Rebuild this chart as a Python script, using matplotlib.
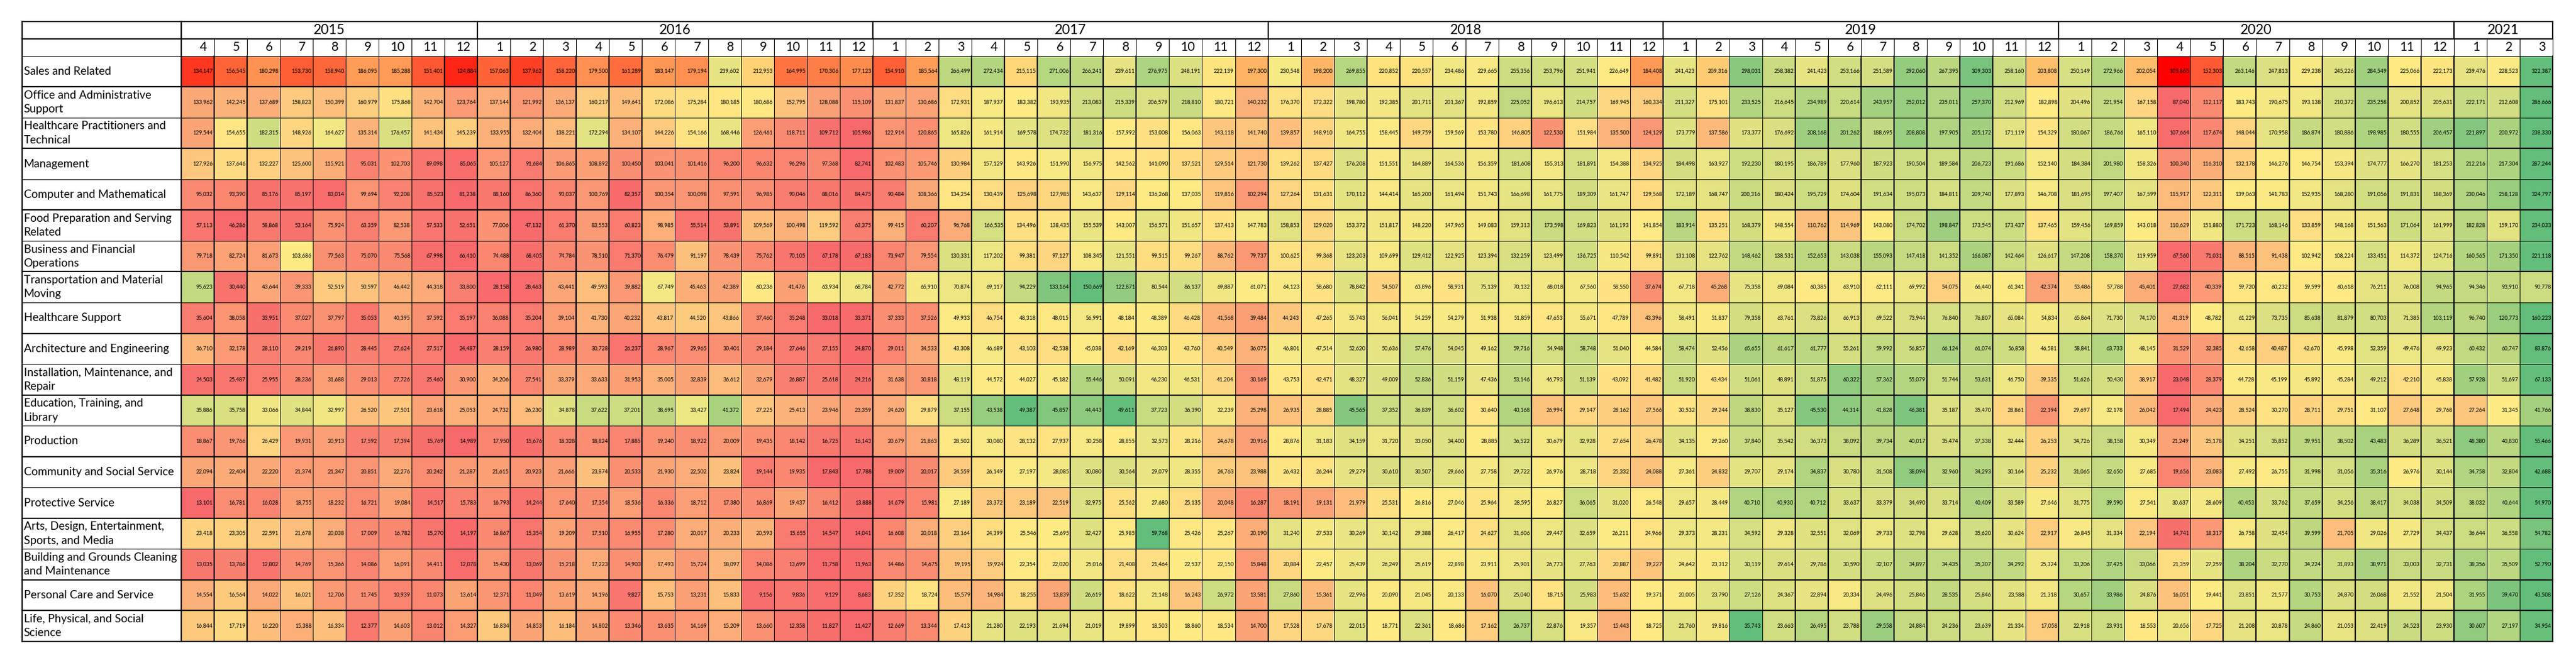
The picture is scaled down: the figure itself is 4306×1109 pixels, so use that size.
import numpy as np
import matplotlib
matplotlib.use("Agg")
import matplotlib.pyplot as plt
from matplotlib.colors import LinearSegmentedColormap, TwoSlopeNorm

plt.rcParams['font.family'] = ['Lato', 'DejaVu Sans']

# ---------- data ----------
years = [2015, 2016, 2017, 2018, 2019, 2020, 2021]
months = {2015: list(range(4, 13)), 2016: list(range(1, 13)), 2017: list(range(1, 13)),
          2018: list(range(1, 13)), 2019: list(range(1, 13)), 2020: list(range(1, 13)),
          2021: [1, 2, 3]}

categories = ["Sales and Related", "Office and Administrative\nSupport",
              "Healthcare Practitioners and\nTechnical", "Management", "Computer and Mathematical",
              "Food Preparation and Serving\nRelated", "Business and Financial\nOperations",
              "Transportation and Material\nMoving", "Healthcare Support", "Architecture and Engineering",
              "Installation, Maintenance, and\nRepair", "Education, Training, and\nLibrary", "Production",
              "Community and Social Service", "Protective Service",
              "Arts, Design, Entertainment,\nSports, and Media",
              "Building and Grounds Cleaning\nand Maintenance", "Personal Care and Service",
              "Life, Physical, and Social\nScience"]

sales = [134147,156545,180298,153730,158940,186095,185288,151401,124884,
 157063,137962,158220,179500,161289,183147,179194,239602,212953,164995,170306,177123,
 154910,185564,266499,272434,215115,271006,266241,239611,276975,248191,222139,197300,
 230548,198200,269855,220852,220557,234486,229665,255356,253796,251941,226649,184408,
 241423,209316,298031,258382,241423,253166,251589,292060,267395,309303,258160,203808,
 250149,272966,202054,105865,152303,263146,247813,229238,245226,284549,225066,222173,
 239476,228523,322387]
office = [133962,142245,137689,158823,150399,160979,175868,142704,123764,
 137144,121992,136137,160217,149641,172086,175284,180185,180686,152795,128088,115109,
 131837,130686,172931,187937,183382,193935,213083,215339,206579,218810,180721,140232,
 176370,172322,198780,192385,201711,201367,192859,225052,196613,214757,169945,160334,
 211327,175101,233525,216645,234989,220614,243957,252012,235011,257370,212969,182898,
 204496,221954,167158,87040,112117,183743,190675,193138,210372,235258,200852,205631,
 222171,212608,286666]
health_prac = [129544,154655,182315,148926,164627,135314,176457,141434,145239,
 133955,132404,138221,172294,134107,144226,154166,168446,126461,118711,109712,105986,
 122914,120865,165826,161914,169578,174732,181316,157992,153008,156063,143118,141740,
 139857,148910,164755,158445,149759,159569,153780,146805,122530,151984,135500,124129,
 173779,137586,173377,176692,208168,201262,188695,208808,197905,205172,171119,154329,
 180067,186766,165110,107664,117674,148044,170958,186874,180886,198985,180555,206457,
 221897,200972,238330]
management = [127926,137646,132227,125600,115921,95031,102703,89098,85065,
 105127,91684,106865,108892,100450,103041,101416,96200,96632,96296,97368,82741,
 102483,105746,130984,157129,143926,151990,156975,142562,141090,137521,129514,121730,
 139262,137427,176208,151551,164889,164536,156359,181608,155313,181891,154388,134925,
 184498,163927,192230,180195,186789,177960,187923,190504,189584,206723,191686,152140,
 184384,201980,158326,100340,116310,132178,146276,146754,153394,174777,166270,181253,
 212216,217304,287244]
computer = [95032,93390,85176,85197,83014,99694,92208,85523,81238,
 88160,86360,93037,100769,82357,100354,100098,97591,96985,90046,88016,84475,
 90484,108366,134254,130439,125698,127985,143637,129114,136268,137035,119816,102294,
 127264,131631,170112,144414,165200,161494,151743,166698,161775,189309,161747,129568,
 172189,168747,200316,180424,195729,174604,191634,195073,184811,209740,177893,146708,
 181695,197407,167599,115917,122311,139063,141783,152935,168280,191056,191831,188369,
 230046,258128,324797]
food = [57113,46286,58868,53164,75924,63359,82538,57533,52651,
 77006,47132,61370,83553,60823,98985,55514,53891,109569,100498,119592,63375,
 99415,60207,96768,166535,134496,138435,155539,143007,156571,151657,137413,147783,
 158853,129020,153372,151817,148220,147965,149083,159313,173598,169823,161193,141854,
 183914,135251,168379,148554,110762,114969,143080,174702,198847,173545,173437,137465,
 159456,169859,143018,110629,151880,171723,168146,133859,148168,151563,171064,161999,
 182828,159170,234033]
business = [79718,82724,81673,103686,77563,75070,75568,67998,66410,
 74488,68405,74784,78510,71370,76479,91197,78439,75762,70105,67178,67183,
 73947,79554,130331,117202,99381,97127,108345,121551,99515,99267,88762,79737,
 100625,99368,123203,109699,129412,122925,123394,132259,123499,136725,110542,99891,
 131108,122762,148462,138531,152653,143038,155093,147418,141352,166087,142464,126617,
 147208,158370,119959,67560,71031,88515,91438,102942,108224,133451,114372,124716,
 160565,171350,221118]
transport = [95623,30440,43644,39333,52519,50597,46442,44318,33800,
 28158,28463,43441,49593,39882,67749,45463,42389,60236,41476,63934,68784,
 42772,65910,70874,69117,94229,133164,150669,122871,80544,86137,69887,61071,
 64123,58680,78842,54507,63896,58931,75139,70132,68018,67560,58550,37674,
 67718,45268,75358,69084,60385,63910,62111,69992,54075,66440,61341,42374,
 53486,57788,45401,27682,40339,59720,60232,59599,60618,76211,76008,94965,
 94346,93910,90778]
health_support = [35604,38058,33951,37027,37797,35053,40395,37592,35197,
 36088,35204,39104,41730,40232,43817,44520,43866,37460,35248,33018,33371,
 37333,37526,49933,46754,48318,48015,56991,48184,48389,46428,41568,39484,
 44243,47265,55743,56041,54259,54279,51938,51859,47653,55671,47789,43396,
 58491,51837,79358,63761,73826,66913,69522,73944,76840,76807,65084,54834,
 65864,71730,74170,41319,48782,61229,73735,85638,81879,80703,71385,103119,
 96740,120773,160223]
architecture = [36710,32178,28110,29219,26890,28445,27624,27517,24487,
 28159,26980,28989,30728,26237,28967,29965,30401,29184,27646,27155,24870,
 29011,34533,43308,46689,43103,42538,45038,42169,46303,43760,40549,36075,
 46801,47514,52620,50636,57476,54045,49162,59716,54948,58748,51040,44584,
 58474,52456,65655,61617,61777,55261,59992,56857,66124,61074,56858,46581,
 58841,63733,48145,31529,32385,42658,40487,42670,45998,52359,49476,49923,
 60432,60747,83876]
installation = [24503,25487,25955,28236,31688,29013,27726,25460,30900,
 34206,27541,33379,33633,31953,35005,32839,36612,32679,26887,25618,24216,
 31638,30818,48119,44572,44027,45182,55446,50091,46230,46531,41204,30169,
 43753,42471,48327,49009,52836,51159,47436,53146,46793,51139,43092,41482,
 51920,43434,51061,48891,51875,60322,57362,55079,51744,53631,46750,39335,
 51626,50430,38917,23048,28379,44728,45199,45892,45284,49212,42210,45838,
 57928,51697,67133]
education = [35886,35758,33066,34844,32997,26520,27501,23618,25053,
 24732,26230,34878,37622,37201,38695,33427,41372,27225,25413,23946,23359,
 24620,29879,37155,43538,49387,45857,44443,49611,37723,36390,32239,25298,
 26935,28885,45565,37352,36839,36602,30640,40168,26994,29147,28162,27566,
 30532,29244,38830,35127,45530,44314,41828,46381,35187,35470,28861,22194,
 29697,32178,26042,17494,24423,28524,30270,28711,29751,31107,27648,29768,
 27264,31345,41766]
production = [18867,19766,26429,19931,20913,17592,17394,15769,14989,
 17950,15676,18328,18824,17885,19240,18922,20009,19435,18142,16725,16143,
 20679,21863,28502,30080,28132,27937,30258,28855,32573,28216,24678,20916,
 28876,31183,34159,31720,33050,34400,28885,36522,30679,32928,27654,26478,
 34135,29260,37840,35542,36373,38092,39734,40017,35474,37338,32444,26253,
 34726,38158,30349,21249,25178,34251,35852,39951,38502,43483,36289,36521,
 48380,40830,55466]
community = [22094,22404,22220,21374,21347,20851,22276,20242,21287,
 21615,20923,21666,23874,20533,21930,22502,23824,19144,19935,17843,17788,
 19009,20017,24559,26149,27197,28085,30080,30564,29079,28355,24763,23988,
 26432,26244,29279,30610,30507,29666,27758,29722,26976,28718,25332,24088,
 27361,24832,29707,29174,34837,30780,31508,38094,32960,34293,30164,25232,
 31065,32650,27685,19656,23083,27492,26755,31998,31056,35316,26976,30144,
 34758,32804,42688]
protective = [13101,16781,16028,18755,18232,16721,19084,14517,15783,
 16793,14244,17640,17354,18536,16336,18712,17380,16869,19437,16412,13888,
 14679,15981,27189,23372,23189,22519,32975,25562,27680,25135,20048,16287,
 18191,19131,21979,25531,26816,27046,25964,28595,26827,36065,31020,26548,
 29657,28449,40710,40930,40712,33637,33379,34490,33714,40409,33589,27646,
 31775,39590,27541,30637,28609,40453,33762,37659,34256,38417,34038,34509,
 38032,40644,54970]
arts = [23418,23305,22591,21678,20038,17009,16782,15270,14197,
 16867,15354,19209,17510,16955,17280,20017,20233,20593,15655,14547,14041,
 16608,20018,23164,24399,25546,25695,32427,25985,59768,25426,25267,20190,
 31240,27533,30269,30142,29388,26417,24627,31606,29447,32659,26211,24966,
 29373,28231,34592,29328,32551,32069,29733,32798,29628,35620,30624,22917,
 26845,31334,22194,14741,18317,26758,32454,39599,21705,29026,27729,34437,
 36644,36558,54782]
building = [13035,13786,12802,14769,15366,14086,16091,14411,12078,
 15430,13069,15218,17223,14903,17493,15724,18097,14086,13699,11758,11963,
 14486,14675,19195,19924,22354,22020,25016,21408,21464,22537,22150,15848,
 20884,22457,25439,26249,25619,22898,23911,25901,26773,27763,20887,19227,
 24642,23312,30119,29614,29786,30590,32107,34897,34435,35307,34292,25324,
 33206,37425,33066,21359,27259,38204,32770,34224,31893,38971,33003,32731,
 38356,35509,52790]
personal = [14554,16564,14022,16021,12706,11745,10939,11073,13614,
 12371,11049,13619,14196,9827,15753,13231,15833,9156,9836,9129,8683,
 17352,18724,15579,14984,18255,13839,26619,18622,21148,16243,26972,13581,
 27860,15361,22996,20090,21045,20133,16070,25040,18715,25983,15632,19371,
 20005,23790,27126,24367,22894,20334,24496,25846,28535,25846,23588,21318,
 30657,33986,24876,16051,19441,23851,21577,30753,24870,26068,21552,21504,
 31955,39470,43508]
life = [16844,17719,16220,15388,16334,12377,14603,13012,14327,
 16834,14853,16184,14802,13346,13635,14169,15209,13660,12358,11827,11427,
 12669,13344,17413,21280,22193,21694,21019,19899,18503,18860,18534,14700,
 17528,17678,22015,18771,22361,18686,17162,26737,22876,19357,15443,18725,
 21760,19816,35743,23663,26495,23788,29558,24884,24236,23639,21334,17058,
 22918,23931,18553,20656,17725,21208,20878,24860,21053,22419,24523,23930,
 30607,27197,34954]

series = [sales, office, health_prac, management, computer, food, business, transport,
          health_support, architecture, installation, education, production, community,
          protective, arts, building, personal, life]

# ---------- layout (pixels of the 4306x1109 picture) ----------
W, H = 4306, 1109
TABLE_L, GRID_L, GRID_R = 37.0, 302.5, 4267.0
TABLE_T, HDR1_B, HDR2_B, GRID_B = 36.0, 65.0, 93.6, 1073.0
THICK, THIN = 2.2 * 0.72, 1.0 * 0.72

# thick (1) / thin (0) right edge per month column, as the table was rasterised
col_edge = ([1,1,0,0,0,0,0,1,1] + [1,1,1,1,1,0,0,0,0,0,0,1] + [0,1,1,1,1,1,1,1,0,0,0,1]
            + [0,0,1,1,1,1,1,1,1,0,0,1] + [0,0,0,1,1,1,1,1,1,1,0,1]
            + [0,0,0,0,1,1,1,1,1,1,1,1] + [0,0,1])
row_edge = [1,0,1,0,1,0,1,0,1,0,1,0,1,0,1,0,1,1,1]

n_cols = sum(len(months[y]) for y in years)
n_rows = len(series)
col_px = (GRID_R - GRID_L) / n_cols
row_px = (GRID_B - HDR2_B) / n_rows

fig = plt.figure(figsize=(W / 100, H / 100), dpi=100, facecolor="white")
ax = fig.add_axes([GRID_L / W, 1 - GRID_B / H, (GRID_R - GRID_L) / W, (GRID_B - HDR2_B) / H])
ax.set_xlim(0, n_cols)
ax.set_ylim(n_rows, 0)
ax.axis("off")

def X(px):
    return (px - GRID_L) / col_px
def Y(px):
    return (px - HDR2_B) / row_px

standard = LinearSegmentedColormap.from_list("rdylgn", ["#F8696B", "#FFEB84", "#63BE7B"])
sales_cmap = LinearSegmentedColormap.from_list("rdylgn_sales", ["#FF0000", "#FFEB84", "#63BE7B"])

x_edges = np.arange(n_cols + 1)
for i, row in enumerate(series):
    vals = np.array(row, dtype=float)
    norm = TwoSlopeNorm(vmin=vals.min(), vcenter=np.median(vals), vmax=vals.max())
    ax.pcolormesh(x_edges, [i, i + 1], vals[None, :], norm=norm,
                  cmap=sales_cmap if i == 0 else standard, linewidth=0, antialiased=False)
    for j, v in enumerate(row):
        ax.text(j + 1 - 2.0 / col_px, i + 0.5, f"{v:,}", ha="right", va="center",
                fontsize=6.5, color="black")
    ax.text(X(TABLE_L + 2.5), i + 0.5, categories[i], ha="left", va="center",
            fontsize=13.6, color="black", linespacing=1.45, clip_on=False)

# headers
pos = 0
year_edges = [0]
for y in years:
    ms = months[y]
    ax.text(pos + len(ms) / 2, Y((TABLE_T + HDR1_B) / 2), str(y), ha="center", va="center",
            fontsize=16.5, color="black", clip_on=False)
    for k, m in enumerate(ms):
        ax.text(pos + k + 1 - 11.5 / col_px, Y((HDR1_B + HDR2_B) / 2), str(m), ha="right",
                va="center", fontsize=15, color="black", clip_on=False)
    pos += len(ms)
    year_edges.append(pos)

# grid lines
line = dict(color="black", clip_on=False, zorder=5, capstyle="projecting")
left_x, top_y, hdr1_y = X(TABLE_L), Y(TABLE_T), Y(HDR1_B)
ax.hlines([top_y, hdr1_y], left_x, n_cols, linewidth=THICK, **line)
ax.hlines(0, left_x, n_cols, linewidth=THIN, **line)
for i, thick in enumerate(row_edge):
    ax.hlines(i + 1, left_x, n_cols, linewidth=THICK if thick else THIN, **line)
for j, thick in enumerate(col_edge):
    ax.vlines(j + 1, 0, n_rows, linewidth=THICK if thick else THIN, **line)
    ax.vlines(j + 1, hdr1_y, 0, linewidth=THIN, **line)
ax.vlines(year_edges, top_y, hdr1_y, linewidth=THICK, **line)
ax.vlines(0, top_y, n_rows, linewidth=THICK, **line)
ax.vlines(left_x, top_y, n_rows, linewidth=THICK, **line)

fig.savefig("out.png", dpi=100, facecolor="white")
